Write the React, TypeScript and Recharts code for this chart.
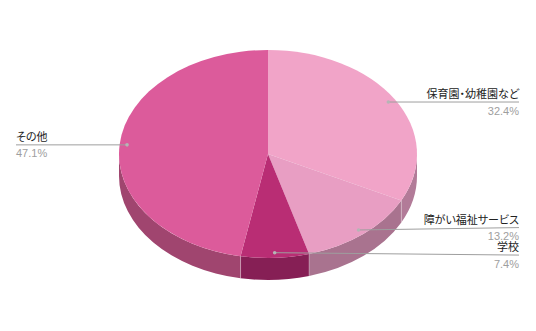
import { Cell, Pie, PieChart } from "recharts";

const categories = ["保育園・幼稚園など", "障がい福祉サービス", "学校", "その他"];
const shares = [32.4, 13.2, 7.4, 47.1];

const topColors = ["#f1a4c8", "#e89ec3", "#b92d74", "#dc5b9b"];
const sideColors = ["#b27b98", "#a9738f", "#861f55", "#a0456f"];

const data = categories.map((name, i) => ({ name, value: shares[i] }));

const W = 536;
const H = 331;
const SQUASH = 0.698; // vertical flattening of the pie disc
const DEPTH = 22;
const LABEL_GAP = 27.5;
const FONT = "'Liberation Sans', 'Noto Sans CJK JP', Arial, sans-serif";

const rad = (a: number) => (a * Math.PI) / 180;

const pt = (cx: number, cy: number, rx: number, ry: number, a: number, dy = 0) =>
  `${cx + rx * Math.cos(rad(a))},${cy - ry * Math.sin(rad(a)) + dy}`;

const Slice3D = (props: any) => {
  const { cx, cy, outerRadius, startAngle, endAngle, fill } = props;
  const idx = categories.indexOf(props.name ?? props.payload?.name);
  const rx = outerRadius;
  const ry = outerRadius * SQUASH;
  const hi = Math.max(startAngle, endAngle);
  const lo = Math.min(startAngle, endAngle);
  const large = hi - lo > 180 ? 1 : 0;

  const top = `M${cx},${cy} L${pt(cx, cy, rx, ry, hi)} A${rx},${ry} 0 ${large} 1 ${pt(cx, cy, rx, ry, lo)} Z`;

  // outer wall, only the part facing the viewer (-180..0)
  const sHi = Math.min(hi, 0);
  const sLo = Math.max(lo, -180);
  let wall = null;
  if (sHi > sLo) {
    const d =
      `M${pt(cx, cy, rx, ry, sHi)} A${rx},${ry} 0 0 1 ${pt(cx, cy, rx, ry, sLo)}` +
      ` L${pt(cx, cy, rx, ry, sLo, DEPTH)} A${rx},${ry} 0 0 0 ${pt(cx, cy, rx, ry, sHi, DEPTH)} Z`;
    wall = <path d={d} fill={sideColors[idx] ?? fill} />;
  }
  const seamVisible = hi < 0 && hi > -180;

  return (
    <g>
      {wall}
      {seamVisible && (
        <line
          x1={cx + rx * Math.cos(rad(hi))}
          y1={cy - ry * Math.sin(rad(hi))}
          x2={cx + rx * Math.cos(rad(hi))}
          y2={cy - ry * Math.sin(rad(hi)) + DEPTH}
          stroke="#ffffff"
          strokeOpacity={0.3}
        />
      )}
      <path d={top} fill={fill} />
    </g>
  );
};

// dot positions for every slice, with labels on one side pushed apart
const labelLayout = (cx: number, cy: number, r: number) => {
  const total = shares.reduce((a, b) => a + b, 0);
  let acc = 0;
  const items = shares.map((v, i) => {
    const mid = 90 - ((acc + v / 2) / total) * 360;
    acc += v;
    const dx = cx + 0.95 * r * Math.cos(rad(mid));
    const dy = cy - 0.95 * r * SQUASH * Math.sin(rad(mid));
    return { i, dx, dy, y: dy, right: Math.cos(rad(mid)) >= 0 };
  });
  [true, false].forEach((side) => {
    const group = items.filter((it) => it.right === side).sort((a, b) => a.y - b.y);
    for (let pass = 0; pass < 10; pass++) {
      for (let k = 1; k < group.length; k++) {
        const gap = group[k].y - group[k - 1].y;
        if (gap < LABEL_GAP) {
          const push = (LABEL_GAP - gap) / 2;
          group[k - 1].y -= push;
          group[k].y += push;
        }
      }
    }
  });
  return items;
};

const renderLabel = (props: any) => {
  const { cx, cy, outerRadius, index } = props;
  const it = labelLayout(cx, cy, outerRadius)[index];
  const textX = it.right ? W - 17 : 16;
  return (
    <g key={`lbl-${index}`}>
      <line
        x1={it.dx}
        y1={it.dy}
        x2={textX}
        y2={it.y}
        stroke="#9e9e9e"
        strokeWidth={1}
      />
      <circle cx={it.dx} cy={it.dy} r={1.8} fill="#b5b5b5" />
      <text
        x={textX}
        y={it.y - 4}
        textAnchor={it.right ? "end" : "start"}
        fontFamily={FONT}
        fontSize={11}
        fill="#222222"
        style={{ fontFeatureSettings: '"palt"' }}
      >
        {categories[index]}
      </text>
      <text
        x={textX}
        y={it.y + 12.5}
        textAnchor={it.right ? "end" : "start"}
        fontFamily={FONT}
        fontSize={11}
        fill="#9e9e9e"
      >
        {`${shares[index].toFixed(1)}%`}
      </text>
    </g>
  );
};

export default function App() {
  return (
    <div style={{ position: "absolute", left: 0, top: 0, background: "#fff" }}>
      <PieChart width={W} height={H} margin={{ top: 0, right: 0, bottom: 0, left: 0 }}>
        <Pie
          data={data}
          dataKey="value"
          nameKey="name"
          cx={268}
          cy={154}
          outerRadius={149}
          startAngle={90}
          endAngle={-270}
          shape={Slice3D}
          label={renderLabel}
          labelLine={false}
          isAnimationActive={false}
        >
          {data.map((d, i) => (
            <Cell key={d.name} fill={topColors[i]} />
          ))}
        </Pie>
      </PieChart>
    </div>
  );
}
